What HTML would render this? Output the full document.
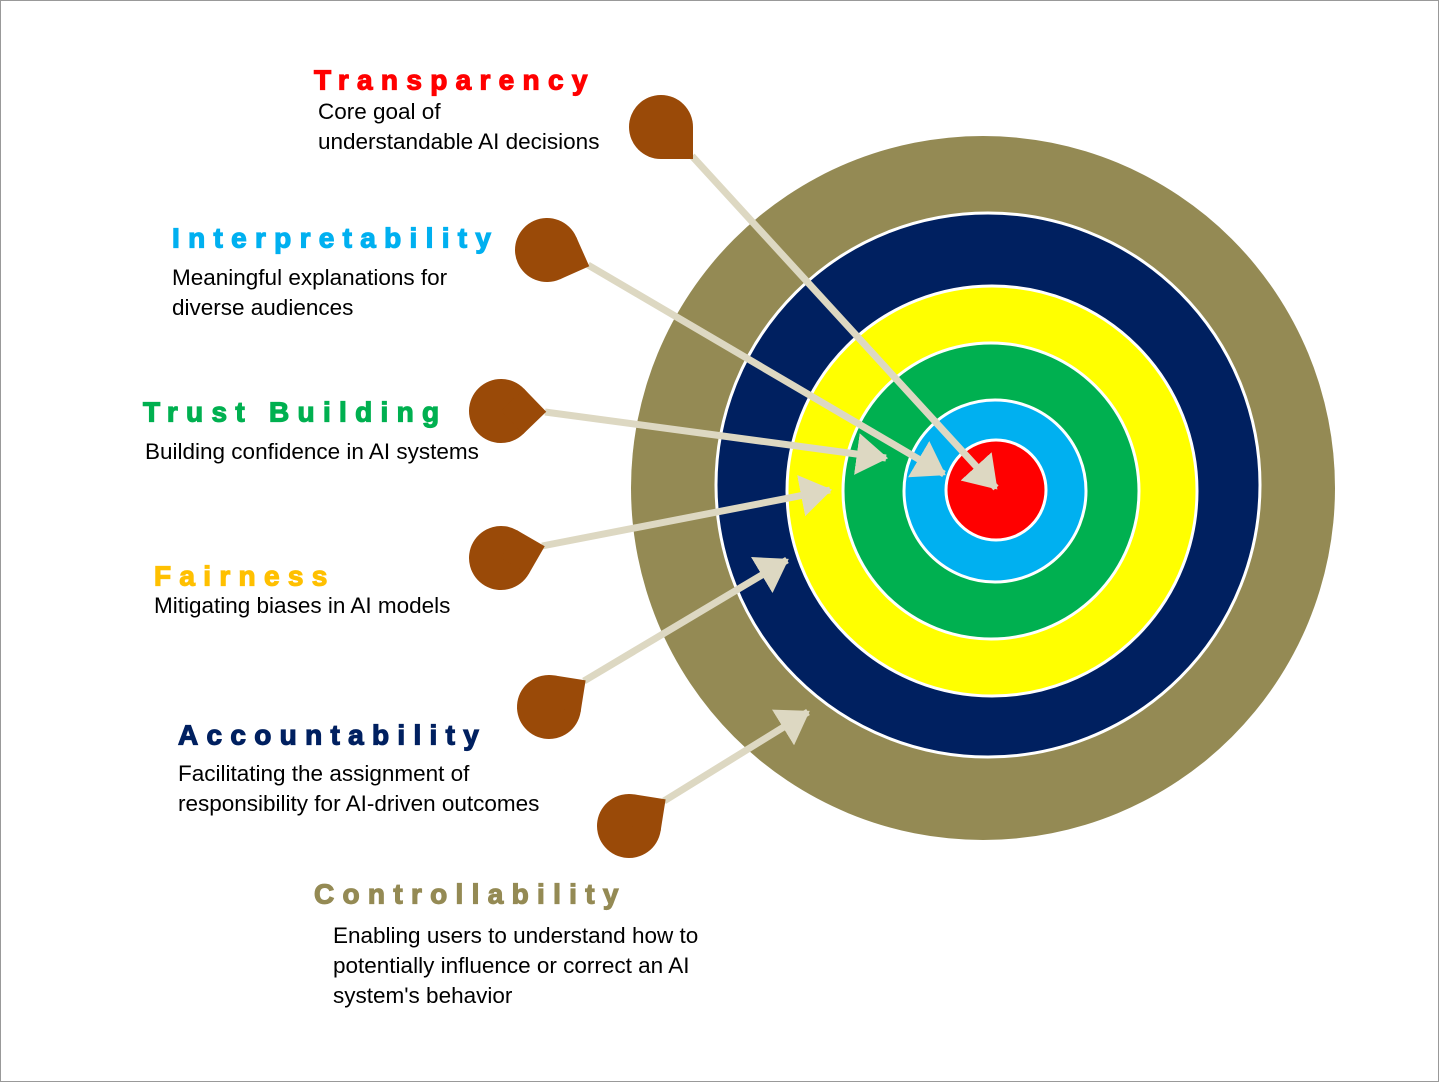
<!DOCTYPE html>
<html><head><meta charset="utf-8"><style>
html,body{margin:0;padding:0;background:#fff;}
svg{display:block;}
.t{font-family:"Liberation Sans",Arial,sans-serif;font-weight:bold;font-size:28px;letter-spacing:8.3px;dominant-baseline:middle;stroke-width:1.2px;}
.b{font-family:"Liberation Sans",Arial,sans-serif;font-size:22.5px;fill:#000;dominant-baseline:middle;}
</style></head><body>
<svg width="1439" height="1082" viewBox="0 0 1439 1082" xmlns="http://www.w3.org/2000/svg">
<rect x="0.5" y="0.5" width="1438" height="1081" fill="#fff" stroke="#999" stroke-width="1"/>
<defs>
<marker id="ah" markerWidth="6" markerHeight="6" refX="4.2" refY="3" orient="auto" markerUnits="strokeWidth">
<path d="M0,0 L4.5,3 L0,6 Z" fill="#DDD8C2"/>
</marker>
</defs>
<circle cx="983" cy="488" r="352" fill="#948A54"/>
<circle cx="988" cy="485" r="272" fill="#002060" stroke="#fff" stroke-width="3"/>
<circle cx="992" cy="491" r="205" fill="#FFFF00" stroke="#fff" stroke-width="3"/>
<circle cx="991" cy="491" r="148" fill="#00B050" stroke="#fff" stroke-width="3"/>
<circle cx="995" cy="491" r="91" fill="#00B0F0" stroke="#fff" stroke-width="3"/>
<circle cx="996" cy="490" r="50" fill="#FF0000" stroke="#fff" stroke-width="3"/>
<g stroke="#DDD8C2" stroke-width="7" fill="none" marker-end="url(#ah)">
<line x1="692" y1="156" x2="996" y2="488"/>
<line x1="588" y1="265" x2="944" y2="474"/>
<line x1="545" y1="412" x2="886" y2="458"/>
<line x1="542" y1="546" x2="830" y2="490"/>
<line x1="584" y1="681" x2="787" y2="560"/>
<line x1="664" y1="801" x2="808" y2="712"/>
</g>
<g fill="#9A4A08">
<g transform="translate(661,127) rotate(0)"><circle r="32"/><rect width="32" height="32"/></g>
<g transform="translate(547,250) rotate(-24)"><circle r="32"/><rect width="32" height="32"/></g>
<g transform="translate(501,411) rotate(-44)"><circle r="32"/><rect width="32" height="32"/></g>
<g transform="translate(501,558) rotate(-60)"><circle r="32"/><rect width="32" height="32"/></g>
<g transform="translate(549,707) rotate(-81)"><circle r="32"/><rect width="32" height="32"/></g>
<g transform="translate(629,826) rotate(-81)"><circle r="32"/><rect width="32" height="32"/></g>
</g>
<text class="t" x="314" y="82" fill="#FF0000" stroke="#FF0000">Transparency</text>
<text class="b" x="318" y="113">Core goal of</text>
<text class="b" x="318" y="143">understandable AI decisions</text>

<text class="t" x="172" y="240" fill="#00B0F0" stroke="#00B0F0">Interpretability</text>
<text class="b" x="172" y="279">Meaningful explanations for</text>
<text class="b" x="172" y="309">diverse audiences</text>

<text class="t" x="143" y="414" fill="#00B050" stroke="#00B050">Trust Building</text>
<text class="b" x="145" y="453">Building confidence in AI systems</text>

<text class="t" x="154" y="578" fill="#FFC000" stroke="#FFC000">Fairness</text>
<text class="b" x="154" y="607">Mitigating biases in AI models</text>

<text class="t" x="178" y="737" fill="#002060" stroke="#002060">Accountability</text>
<text class="b" x="178" y="775">Facilitating the assignment of</text>
<text class="b" x="178" y="805">responsibility for AI-driven outcomes</text>

<text class="t" x="314" y="896" fill="#948A54" stroke="#948A54">Controllability</text>
<text class="b" x="333" y="937">Enabling users to understand how to</text>
<text class="b" x="333" y="967">potentially influence or correct an AI</text>
<text class="b" x="333" y="997">system's behavior</text>
</svg>
</body></html>
